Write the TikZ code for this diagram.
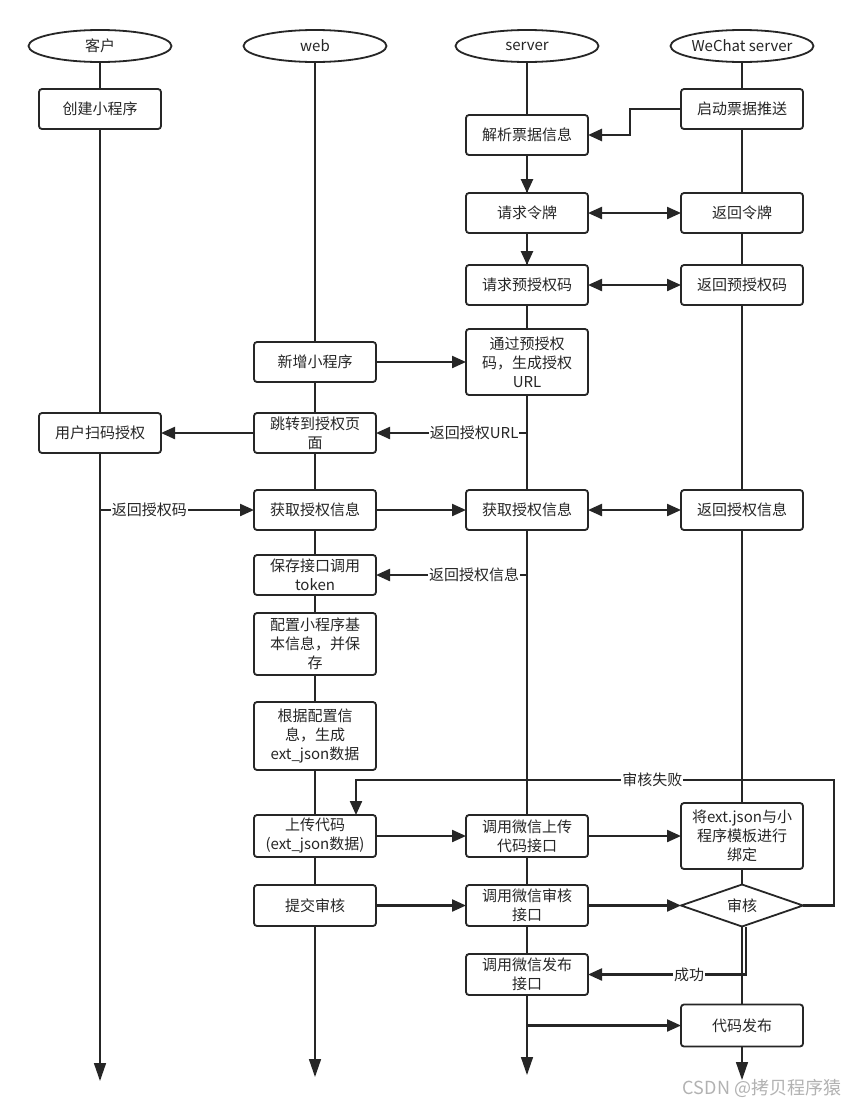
\documentclass[tikz,border=0pt]{standalone}
\usepackage{fontspec}
\setmainfont{Noto Sans CJK SC}
\usetikzlibrary{arrows.meta,positioning,shapes.geometric}
\definecolor{ink}{HTML}{262626}

\begin{document}
\begin{tikzpicture}[x=1pt, y=-1pt, node distance=30pt, color=ink,
  font=\fontsize{15}{19}\selectfont]
	\tikzstyle{lane}
	  =[draw, ellipse, line width=1.8pt, minimum width=143pt,
	  minimum height=32pt, inner sep=0pt, outer sep=0pt, fill=white]
	\tikzstyle{box}
	  =[draw, rectangle, rounded corners=3pt, line width=1.8pt,
	  minimum width=122pt, minimum height=40pt, inner sep=1pt,
	  outer sep=0pt, align=center, fill=white]
	\tikzstyle{box_tall}
	  =[box, minimum height=66pt]
	\tikzstyle{decision}
	  =[draw, diamond, aspect=3, line width=1.8pt, minimum width=122pt,
	  minimum height=42pt, inner sep=0pt, outer sep=0pt, fill=white]
	\tikzstyle{life}
	  =[line width=1.5pt, -{Triangle[length=18pt,width=12pt]}]
	\tikzstyle{flow}
	  =[line width=2.2pt, -{Triangle[length=14pt,width=12pt]}]
	\tikzstyle{flow_both}
	  =[line width=2.2pt, {Triangle[length=14pt,width=12pt]}-{Triangle[length=14pt,width=12pt]}]
	\tikzstyle{msg}
	  =[fill=white, inner sep=1pt]

	\path[fill=white, use as bounding box] (0,0) rectangle (865,1109);

	% lanes
	\node[lane] (laneclient) at (100,46) {客户};
	\node[lane] (laneweb) [right=72pt of laneclient] {web};
	\node[lane] (laneserver) [right=69pt of laneweb] {server};
	\node[lane] (lanewechat) [right=72pt of laneserver] {WeChat server};

	\coordinate (endclient) at (100,1081);
	\coordinate (endweb) at (315,1077);
	\coordinate (endserver) at (527,1075);
	\coordinate (endwechat) at (742,1080);

	\draw[life] (laneclient) -- (endclient);
	\draw[life] (laneweb) -- (endweb);
	\draw[life] (laneserver) -- (endserver);
	\draw[life] (lanewechat) -- (endwechat);

	% steps
	\node[box] (createapp) [below=27pt of laneclient] {创建小程序};
	\node[box] (pushticket) [below=27pt of lanewechat] {启动票据推送};
	\node[box] (parseticket) [below=53pt of laneserver] {解析票据信息};
	\node[box] (reqtoken) [below=38pt of parseticket] {请求令牌};
	\node[box] (rettoken) [right=93pt of reqtoken] {返回令牌};
	\node[box] (reqcode) [below=32pt of reqtoken] {请求预授权码};
	\node[box] (retcode) [right=93pt of reqcode] {返回预授权码};
	\node[box_tall] (genurl)
	  [below=24pt of reqcode] {通过预授权\\码，生成授权\\URL};
	\node[box] (newapp) [left=90pt of genurl] {新增小程序};
	\node[box] (jumppage) [below=31pt of newapp] {跳转到授权页\\面};
	\node[box] (scanauth) [left=93pt of jumppage] {用户扫码授权};
	\node[box] (getinfoweb) [below=37pt of jumppage] {获取授权信息};
	\node[box] (getinfosrv) [right=90pt of getinfoweb] {获取授权信息};
	\node[box] (retinfo) [right=93pt of getinfosrv] {返回授权信息};
	\node[box] (savetoken) [below=25pt of getinfoweb] {保存接口调用\\token};
	\node[box_tall, minimum height=62pt] (configapp)
	  [below=18pt of savetoken] {配置小程序基\\本信息，并保\\存};
	\node[box_tall, minimum height=68pt] (genext)
	  [below=27pt of configapp] {根据配置信\\息，生成\\ext\_json数据};
	\node[box, minimum height=42pt] (upload)
	  [below=45pt of genext] {上传代码\\(ext\_json数据)};
	\node[box, minimum height=42pt] (callupload)
	  [right=90pt of upload] {调用微信上传\\代码接口};
	\node[box_tall] (bindtpl)
	  [right=93pt of callupload] {将ext.json与小\\程序模板进行\\绑定};
	\node[box, minimum height=41pt] (submit) [below=28pt of upload] {提交审核};
	\node[box, minimum height=41pt] (callaudit)
	  [right=90pt of submit] {调用微信审核\\接口};
	\node[decision] (audit) [right=93pt of callaudit] {审核};
	\node[box, minimum height=41pt] (callpublish)
	  [below=28pt of callaudit] {调用微信发布\\接口};
	\node[box, minimum height=42pt] (release) [below=78pt of audit] {代码发布};

	% messages
	\draw[flow, line width=2.6pt] (pushticket.west) -- ++(-51,0) |- (parseticket.east);
	\draw[flow, line width=2.6pt] (parseticket) -- (reqtoken);
	\draw[flow_both] (reqtoken) -- (rettoken);
	\draw[flow, line width=2.6pt] (reqtoken) -- (reqcode);
	\draw[flow_both] (reqcode) -- (retcode);
	\draw[flow] (newapp) -- (genurl);
	\draw[flow] (genurl.south) -- (genurl.south |- jumppage.east)
	  -- node[msg, pos=0.35] {返回授权URL} (jumppage.east);
	\draw[flow] (jumppage) -- (scanauth);
	\draw[flow] (scanauth.south) -- (scanauth.south |- getinfoweb.west)
	  -- node[msg, pos=0.32] {返回授权码} (getinfoweb.west);
	\draw[flow] (getinfoweb) -- (getinfosrv);
	\draw[flow_both] (getinfosrv) -- (retinfo);
	\draw[flow] (getinfosrv.south) -- (getinfosrv.south |- savetoken.east)
	  -- node[msg, pos=0.35] {返回授权信息} (savetoken.east);
	\draw[flow] (upload) -- (callupload);
	\draw[flow] (callupload) -- (bindtpl);
	\draw[flow] (submit) -- (callaudit);
	\draw[flow] (callaudit) -- (audit);

	\coordinate (failin) at ([xshift=41pt]upload.north);
	\draw[flow] (audit.east) -- ++(31,0)
	  |- node[msg, pos=0.69] {审核失败} ([yshift=35pt]failin) -- (failin);
	\draw[flow] ([xshift=4pt]audit.south)
	  |- node[msg, pos=0.68] {成功} (callpublish.east);
	\draw[flow] (callpublish.south) -- (callpublish.south |- release.west)
	  -- (release.west);

	\node[text=gray!60, font=\fontsize{18}{20}\selectfont] (mark)
	  at (762,1088) {CSDN @拷贝程序猿};
\end{tikzpicture}
\end{document}
